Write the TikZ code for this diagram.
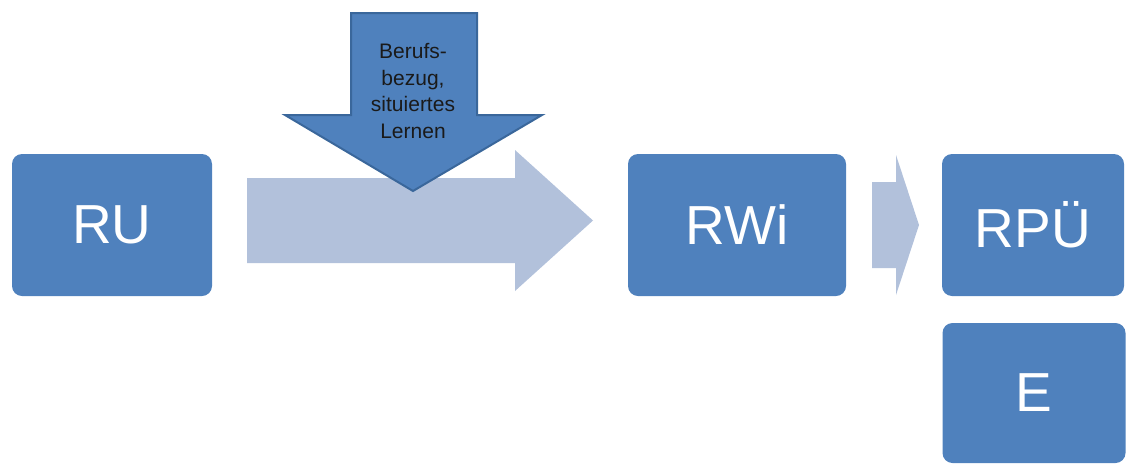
\documentclass[tikz,border=0pt]{standalone}
\usepackage{fontspec}
\setmainfont{Liberation Sans}
\definecolor{boxblue}{HTML}{4F81BD}
\definecolor{lightarrow}{HTML}{B2C1DB}
\definecolor{edgeblue}{HTML}{3A679B}
\definecolor{darktext}{HTML}{1A1A1A}
\begin{document}
\begin{tikzpicture}[x=1pt,y=-1pt,
  box/.style={fill=boxblue, rounded corners=10pt, text=white,
    font=\fontsize{55}{60}\selectfont, inner sep=0pt, minimum height=142pt},
  lightarr/.style={fill=lightarrow},
  downarr/.style={fill=boxblue, draw=edgeblue, line width=2pt, line join=miter},
  arrtext/.style={text=darktext, align=center, font=\fontsize{21}{26.5}\selectfont, inner sep=0pt}]
\useasboundingbox (0,0) rectangle (1132,464);
% light arrows
\fill[lightarr] (247,178) -- (515,178) -- (515,150) -- (593,220.5) -- (515,291) -- (515,263) -- (247,263) -- cycle;
\fill[lightarr] (872,182) -- (896,182) -- (896,155) -- (919,225) -- (896,295) -- (896,268) -- (872,268) -- cycle;
% boxes
\node[box, minimum width=200pt] (ru) at (112,225) {RU};
\node[box, minimum width=218pt] (rwi) at (737,225) {RWi};
\node[box, minimum width=182pt] (rpu) at (1033,225) {RPÜ};
\node[box, minimum width=183pt, minimum height=140pt] (e) at (1034,393) {E};
% down arrow
\draw[downarr] (351,13) -- (477,13) -- (477,115) -- (542,115) -- (413,191) -- (285,115) -- (351,115) -- cycle;
\node[arrtext] (bez) at (413,91) {Berufs-\\bezug,\\situiertes\\Lernen};
\end{tikzpicture}
\end{document}
